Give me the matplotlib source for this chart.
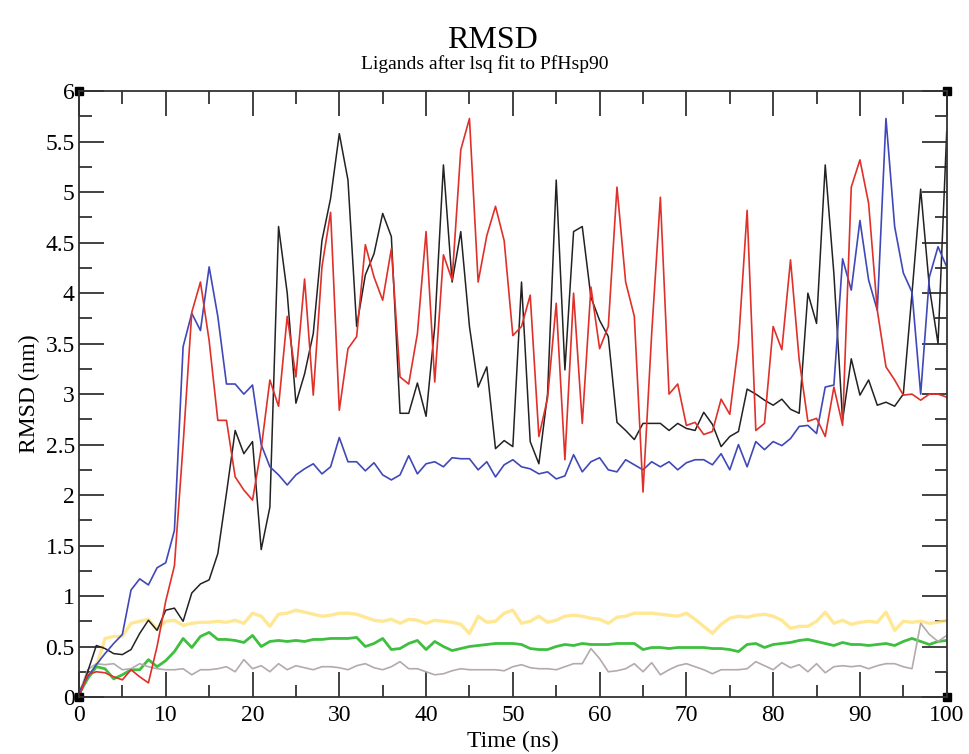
import numpy as np
import matplotlib
matplotlib.use("Agg")
import matplotlib.pyplot as plt
from matplotlib.ticker import MultipleLocator

# time axis (ns), one frame per ns
time_ns = np.arange(0, 101)

rmsd_black = [0.0, 0.25, 0.51, 0.48, 0.43, 0.42, 0.47, 0.63, 0.76, 0.66,
              0.86, 0.88, 0.75, 1.03, 1.12, 1.16, 1.42, 2.02, 2.64, 2.41,
              2.53, 1.46, 1.88, 4.66, 4.0, 2.91, 3.2, 3.6, 4.52, 4.94,
              5.58, 5.12, 3.67, 4.18, 4.39, 4.79, 4.56, 2.81, 2.81, 3.11,
              2.78, 3.67, 5.27, 4.11, 4.61, 3.67, 3.07, 3.27, 2.46, 2.54,
              2.48, 4.11, 2.53, 2.31, 3.0, 5.12, 3.24, 4.61, 4.66, 3.96,
              3.73, 3.57, 2.72, 2.64, 2.55, 2.71, 2.71, 2.71, 2.64, 2.71,
              2.66, 2.64, 2.82, 2.70, 2.48, 2.58, 2.63, 3.05, 3.0, 2.94,
              2.89, 2.95, 2.85, 2.81, 4.0, 3.7, 5.27, 4.19, 2.74, 3.35,
              2.99, 3.14, 2.89, 2.92, 2.88, 3.0, 4.0, 5.03, 4.06, 3.5,
              5.6]

rmsd_red = [0.0, 0.22, 0.25, 0.24, 0.2, 0.17, 0.27, 0.2, 0.14, 0.5,
            0.95, 1.3, 2.5, 3.81, 4.11, 3.53, 2.74, 2.74, 2.18, 2.05,
            1.95, 2.46, 3.14, 2.88, 3.77, 3.17, 4.14, 2.99, 4.26, 4.80,
            2.84, 3.45, 3.57, 4.48, 4.16, 3.93, 4.44, 3.17, 3.1, 3.6,
            4.61, 3.12, 4.38, 4.13, 5.42, 5.73, 4.11, 4.57, 4.86, 4.52,
            3.58, 3.67, 3.98, 2.58, 2.96, 3.9, 2.35, 4.0, 2.71, 4.06,
            3.45, 3.67, 5.05, 4.11, 3.77, 2.03, 3.6, 4.95, 3.0, 3.1,
            2.69, 2.72, 2.6, 2.63, 2.95, 2.8, 3.5, 4.82, 2.64, 2.71,
            3.67, 3.44, 4.33, 3.34, 2.73, 2.76, 2.58, 3.07, 2.69, 5.05,
            5.32, 4.89, 3.83, 3.27, 3.14, 2.99, 3.0, 2.94, 3.0, 3.0,
            2.97]

rmsd_blue = [0.05, 0.2, 0.32, 0.43, 0.53, 0.62, 1.06, 1.17, 1.11, 1.28,
             1.33, 1.65, 3.47, 3.8, 3.63, 4.26, 3.77, 3.1, 3.1, 3.0,
             3.09, 2.5, 2.28, 2.2, 2.1, 2.2, 2.26, 2.31, 2.21, 2.28,
             2.57, 2.33, 2.33, 2.24, 2.32, 2.2, 2.15, 2.2, 2.39, 2.21,
             2.31, 2.33, 2.28, 2.37, 2.36, 2.36, 2.25, 2.33, 2.18, 2.30,
             2.35, 2.28, 2.26, 2.21, 2.23, 2.16, 2.19, 2.40, 2.23, 2.33,
             2.37, 2.25, 2.23, 2.35, 2.30, 2.25, 2.33, 2.28, 2.33, 2.25,
             2.32, 2.35, 2.35, 2.30, 2.41, 2.25, 2.5, 2.28, 2.53, 2.45,
             2.53, 2.49, 2.56, 2.68, 2.69, 2.61, 3.07, 3.09, 4.34, 4.03,
             4.72, 4.13, 3.83, 5.73, 4.66, 4.2, 4.01, 3.0, 4.16, 4.46,
             4.26]

rmsd_yellow = [0.05, 0.2, 0.3, 0.58, 0.6, 0.6, 0.73, 0.75, 0.77, 0.67,
               0.75, 0.76, 0.71, 0.73, 0.74, 0.74, 0.75, 0.74, 0.76, 0.73,
               0.83, 0.8, 0.70, 0.82, 0.83, 0.86, 0.84, 0.82, 0.8, 0.81,
               0.83, 0.83, 0.82, 0.79, 0.76, 0.75, 0.77, 0.73, 0.77, 0.76,
               0.73, 0.76, 0.75, 0.74, 0.72, 0.63, 0.8, 0.74, 0.75, 0.83,
               0.86, 0.73, 0.75, 0.80, 0.74, 0.76, 0.8, 0.81, 0.8, 0.78,
               0.77, 0.73, 0.79, 0.8, 0.83, 0.83, 0.83, 0.82, 0.81, 0.8,
               0.83, 0.77, 0.7, 0.63, 0.72, 0.78, 0.8, 0.79, 0.81, 0.82,
               0.8, 0.76, 0.68, 0.7, 0.7, 0.75, 0.84, 0.73, 0.76, 0.72,
               0.74, 0.75, 0.74, 0.84, 0.66, 0.75, 0.74, 0.75, 0.73, 0.74,
               0.76]

rmsd_green = [0.03, 0.18, 0.3, 0.28, 0.18, 0.22, 0.27, 0.27, 0.37, 0.3,
              0.36, 0.45, 0.58, 0.49, 0.6, 0.64, 0.57, 0.57, 0.56, 0.54,
              0.61, 0.5, 0.55, 0.56, 0.55, 0.56, 0.55, 0.57, 0.57, 0.58,
              0.58, 0.58, 0.59, 0.5, 0.53, 0.58, 0.47, 0.48, 0.53, 0.56,
              0.47, 0.55, 0.5, 0.46, 0.48, 0.5, 0.51, 0.52, 0.53, 0.53,
              0.53, 0.52, 0.48, 0.47, 0.47, 0.5, 0.52, 0.51, 0.53, 0.52,
              0.52, 0.52, 0.53, 0.53, 0.53, 0.47, 0.49, 0.49, 0.48, 0.49,
              0.49, 0.49, 0.49, 0.48, 0.48, 0.47, 0.45, 0.52, 0.53, 0.49,
              0.52, 0.53, 0.54, 0.56, 0.57, 0.55, 0.53, 0.51, 0.54, 0.52,
              0.52, 0.51, 0.52, 0.53, 0.51, 0.55, 0.58, 0.55, 0.52, 0.55,
              0.56]

rmsd_gray = [0.03, 0.27, 0.33, 0.32, 0.33, 0.27, 0.28, 0.33, 0.3, 0.28,
             0.27, 0.27, 0.28, 0.22, 0.27, 0.27, 0.28, 0.3, 0.25, 0.37,
             0.28, 0.31, 0.25, 0.33, 0.27, 0.31, 0.29, 0.27, 0.3, 0.3,
             0.29, 0.27, 0.31, 0.33, 0.29, 0.27, 0.3, 0.35, 0.28, 0.28,
             0.25, 0.22, 0.23, 0.26, 0.28, 0.27, 0.27, 0.27, 0.27, 0.26,
             0.3, 0.32, 0.29, 0.28, 0.28, 0.27, 0.3, 0.33, 0.33, 0.48,
             0.38, 0.25, 0.26, 0.28, 0.33, 0.25, 0.34, 0.22, 0.27, 0.31,
             0.33, 0.3, 0.27, 0.23, 0.27, 0.27, 0.27, 0.28, 0.35, 0.31,
             0.27, 0.34, 0.29, 0.32, 0.25, 0.33, 0.24, 0.3, 0.31, 0.3,
             0.31, 0.28, 0.31, 0.33, 0.33, 0.3, 0.28, 0.73, 0.62, 0.55,
             0.61]

y_tick_labels = ['0', '0.5', '1', '1.5', '2', '2.5', '3', '3.5', '4', '4.5', '5', '5.5', '6']

plt.rcParams['font.family'] = ['Liberation Serif', 'DejaVu Serif']

fig = plt.figure(figsize=(9.69, 7.54), dpi=100)
ax = fig.add_axes([0.0815, 0.0756, 0.8955, 0.8034])

ax.plot(time_ns, rmsd_yellow, color='#ffe27a', lw=2.4, alpha=0.8)
ax.plot(time_ns, rmsd_green, color='#3fbf3f', lw=2.0)
ax.plot(time_ns, rmsd_gray, color='#b4aaaa', lw=1.2)
ax.plot(time_ns, rmsd_black, color='#222222', lw=1.1)
ax.plot(time_ns, rmsd_blue, color='#4048b8', lw=1.2)
ax.plot(time_ns, rmsd_red, color='#e0302a', lw=1.2)

ax.set_xlim(0, 100)
ax.set_ylim(0, 6)
ax.xaxis.set_major_locator(MultipleLocator(10))
ax.xaxis.set_minor_locator(MultipleLocator(5))
ax.set_yticks(np.arange(0, 6.01, 0.5))
ax.set_yticklabels(y_tick_labels)
ax.yaxis.set_minor_locator(MultipleLocator(0.25))

ax.tick_params(which='both', direction='in', top=True, right=True,
               color='#333333', width=1.3, labelsize=17)
ax.tick_params(axis='x', pad=6)
ax.tick_params(axis='y', pad=3)
ax.tick_params(which='major', length=18)
ax.tick_params(which='minor', length=9)
for s in ax.spines.values():
    s.set_linewidth(1.3)
    s.set_color('#333333')

# corner markers
ax.plot([0, 1, 0, 1], [0, 0, 1, 1], 's', color='black', ms=6,
        transform=ax.transAxes, clip_on=False)

ax.set_xlabel('Time (ns)', fontsize=17, labelpad=3)
ax.set_ylabel('RMSD (nm)', fontsize=17, labelpad=4)

fig.text(0.508, 0.946, 'RMSD', ha='center', va='center', fontsize=23)
fig.text(0.5, 0.915, 'Ligands after lsq fit to PfHsp90', ha='center', va='center', fontsize=14)

fig.savefig('out.png', dpi=100)
plt.close(fig)
